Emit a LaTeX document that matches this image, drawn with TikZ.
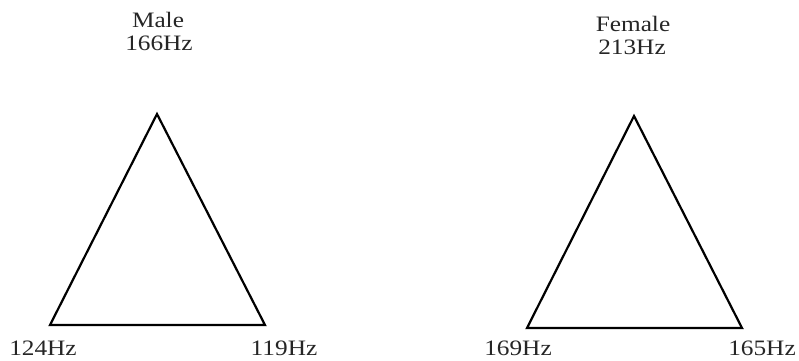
\documentclass[tikz,border=0pt]{standalone}
\usepackage{fontspec}
\setmainfont{Liberation Serif}
\newcommand\widetxt[1]{\scalebox{1.15}[1]{#1}}
\begin{document}
\begin{tikzpicture}[x=1pt,y=1pt,
  lbl/.style={anchor=base,inner sep=0pt,text=black!85,font=\fontsize{22}{26}\selectfont},
  tri/.style={draw=black,line width=2.2pt,line join=miter}]
\useasboundingbox (0,0) rectangle (799,360);
% Male
\coordinate (mA) at (157,246);
\coordinate (mL) at (50,35);
\coordinate (mR) at (265,35);
\draw[tri] (mA) -- (mL) -- (mR) -- cycle;
\node[lbl] (mT1) at (158,333) {\widetxt{Male}};
\node[lbl] (mT2) at (159,310) {\widetxt{166Hz}};
\node[lbl] (mLl) at (43,5) {\widetxt{124Hz}};
\node[lbl] (mRl) at (284,5) {\widetxt{119Hz}};
% Female
\coordinate (fA) at (634,244);
\coordinate (fL) at (527,32);
\coordinate (fR) at (742,32);
\draw[tri] (fA) -- (fL) -- (fR) -- cycle;
\node[lbl] (fT1) at (633,329) {\widetxt{Female}};
\node[lbl] (fT2) at (632,306) {\widetxt{213Hz}};
\node[lbl] (fLl) at (518,4.5) {\widetxt{169Hz}};
\node[lbl] (fRl) at (762,5) {\widetxt{165Hz}};
\end{tikzpicture}
\end{document}
